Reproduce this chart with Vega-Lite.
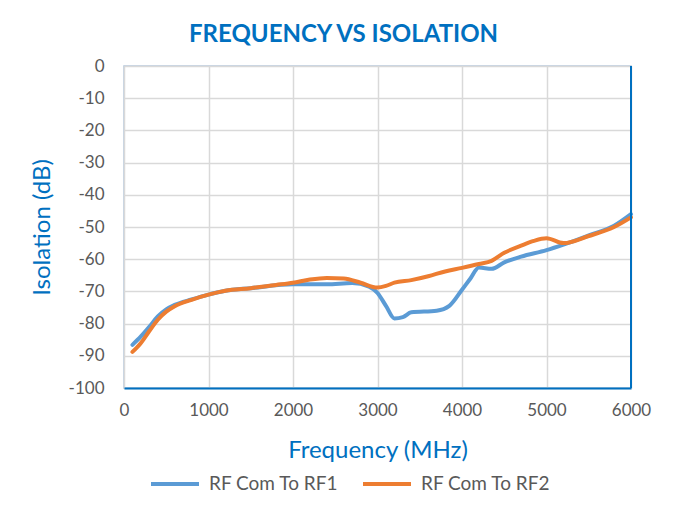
{
  "$schema": "https://vega.github.io/schema/vega-lite/v6.json",
  "width": 507,
  "height": 322,
  "autosize": {"type": "none"},
  "padding": {"left": 124, "top": 66, "right": 48, "bottom": 128},
  "background": "white",
  "title": {
    "text": "FREQUENCY VS ISOLATION",
    "font": "Lato",
    "fontSize": 24,
    "fontWeight": "bold",
    "color": "#0070C0",
    "anchor": "middle",
    "dx": -34,
    "offset": 10
  },
  "config": {
    "view": {"stroke": "#B4C7DC", "strokeWidth": 1.5},
    "font": "Lato"
  },
  "data": {
    "values": [
      {"f": 100, "db": -86.6, "s": "RF Com To RF1"},
      {"f": 200, "db": -84, "s": "RF Com To RF1"},
      {"f": 300, "db": -81, "s": "RF Com To RF1"},
      {"f": 400, "db": -77.8, "s": "RF Com To RF1"},
      {"f": 500, "db": -75.6, "s": "RF Com To RF1"},
      {"f": 600, "db": -74.2, "s": "RF Com To RF1"},
      {"f": 800, "db": -72.5, "s": "RF Com To RF1"},
      {"f": 1000, "db": -71, "s": "RF Com To RF1"},
      {"f": 1200, "db": -69.8, "s": "RF Com To RF1"},
      {"f": 1500, "db": -69, "s": "RF Com To RF1"},
      {"f": 2000, "db": -67.8, "s": "RF Com To RF1"},
      {"f": 2400, "db": -67.8, "s": "RF Com To RF1"},
      {"f": 2700, "db": -67.4, "s": "RF Com To RF1"},
      {"f": 2900, "db": -68.5, "s": "RF Com To RF1"},
      {"f": 3000, "db": -70.5, "s": "RF Com To RF1"},
      {"f": 3100, "db": -74.5, "s": "RF Com To RF1"},
      {"f": 3200, "db": -78.4, "s": "RF Com To RF1"},
      {"f": 3300, "db": -78, "s": "RF Com To RF1"},
      {"f": 3400, "db": -76.5, "s": "RF Com To RF1"},
      {"f": 3700, "db": -76, "s": "RF Com To RF1"},
      {"f": 3850, "db": -74.5, "s": "RF Com To RF1"},
      {"f": 4000, "db": -69.5, "s": "RF Com To RF1"},
      {"f": 4100, "db": -66, "s": "RF Com To RF1"},
      {"f": 4200, "db": -62.6, "s": "RF Com To RF1"},
      {"f": 4350, "db": -63, "s": "RF Com To RF1"},
      {"f": 4500, "db": -61, "s": "RF Com To RF1"},
      {"f": 4700, "db": -59.2, "s": "RF Com To RF1"},
      {"f": 5000, "db": -57.2, "s": "RF Com To RF1"},
      {"f": 5200, "db": -55.5, "s": "RF Com To RF1"},
      {"f": 5500, "db": -52.6, "s": "RF Com To RF1"},
      {"f": 5800, "db": -49.6, "s": "RF Com To RF1"},
      {"f": 6000, "db": -46, "s": "RF Com To RF1"},
      {"f": 100, "db": -88.8, "s": "RF Com To RF2"},
      {"f": 200, "db": -86, "s": "RF Com To RF2"},
      {"f": 300, "db": -82.3, "s": "RF Com To RF2"},
      {"f": 400, "db": -78.8, "s": "RF Com To RF2"},
      {"f": 500, "db": -76.3, "s": "RF Com To RF2"},
      {"f": 600, "db": -74.6, "s": "RF Com To RF2"},
      {"f": 800, "db": -72.6, "s": "RF Com To RF2"},
      {"f": 1000, "db": -71, "s": "RF Com To RF2"},
      {"f": 1200, "db": -69.8, "s": "RF Com To RF2"},
      {"f": 1500, "db": -69, "s": "RF Com To RF2"},
      {"f": 1800, "db": -68, "s": "RF Com To RF2"},
      {"f": 2000, "db": -67.3, "s": "RF Com To RF2"},
      {"f": 2200, "db": -66.3, "s": "RF Com To RF2"},
      {"f": 2400, "db": -65.8, "s": "RF Com To RF2"},
      {"f": 2600, "db": -66, "s": "RF Com To RF2"},
      {"f": 2800, "db": -67.3, "s": "RF Com To RF2"},
      {"f": 3000, "db": -68.8, "s": "RF Com To RF2"},
      {"f": 3100, "db": -68.3, "s": "RF Com To RF2"},
      {"f": 3200, "db": -67.3, "s": "RF Com To RF2"},
      {"f": 3400, "db": -66.5, "s": "RF Com To RF2"},
      {"f": 3600, "db": -65.3, "s": "RF Com To RF2"},
      {"f": 3800, "db": -63.8, "s": "RF Com To RF2"},
      {"f": 4000, "db": -62.7, "s": "RF Com To RF2"},
      {"f": 4200, "db": -61.5, "s": "RF Com To RF2"},
      {"f": 4350, "db": -60.5, "s": "RF Com To RF2"},
      {"f": 4500, "db": -58, "s": "RF Com To RF2"},
      {"f": 4700, "db": -55.8, "s": "RF Com To RF2"},
      {"f": 4850, "db": -54.3, "s": "RF Com To RF2"},
      {"f": 5000, "db": -53.5, "s": "RF Com To RF2"},
      {"f": 5200, "db": -55, "s": "RF Com To RF2"},
      {"f": 5500, "db": -52.8, "s": "RF Com To RF2"},
      {"f": 5800, "db": -50, "s": "RF Com To RF2"},
      {"f": 6000, "db": -47, "s": "RF Com To RF2"}
    ]
  },
  "layer": [
    {
      "mark": {"type": "line", "interpolate": "monotone", "strokeWidth": 4, "strokeCap": "round", "strokeJoin": "round"},
      "encoding": {
        "x": {
          "field": "f", "type": "quantitative",
          "scale": {"domain": [0, 6000], "nice": false},
          "axis": {
            "values": [0, 1000, 2000, 3000, 4000, 5000, 6000],
            "labelExpr": "'' + datum.value",
            "labelFlush": false,
            "title": "Frequency (MHz)",
            "titleFont": "Lato", "titleFontSize": 24, "titleFontWeight": "normal", "titleColor": "#0070C0",
            "titlePadding": 20,
            "labelFont": "Lato", "labelFontSize": 17, "labelColor": "#595959",
            "labelPadding": 14, "ticks": false,
            "domainColor": "#0070C0", "domainWidth": 2,
            "grid": true, "gridColor": "#D9D9D9", "gridWidth": 1.5
          }
        },
        "y": {
          "field": "db", "type": "quantitative",
          "scale": {"domain": [-100, 0], "nice": false},
          "axis": {
            "values": [-100, -90, -80, -70, -60, -50, -40, -30, -20, -10, 0],
            "labelExpr": "'' + datum.value",
            "title": "Isolation (dB)",
            "titleFont": "Lato", "titleFontSize": 24, "titleFontWeight": "normal", "titleColor": "#0070C0",
            "titlePadding": 14,
            "labelFont": "Lato", "labelFontSize": 17, "labelColor": "#595959",
            "labelPadding": 20, "ticks": false, "domain": false,
            "grid": true, "gridColor": "#D9D9D9", "gridWidth": 1.5
          }
        },
        "color": {
          "field": "s", "type": "nominal",
          "scale": {"domain": ["RF Com To RF1", "RF Com To RF2"], "range": ["#5B9BD5", "#ED7D31"]},
          "legend": {
            "title": null,
            "orient": "none",
            "direction": "horizontal",
            "legendX": 25,
            "legendY": 392,
            "symbolType": "stroke",
            "symbolSize": 2304,
            "symbolStrokeWidth": 4,
            "labelFont": "Lato", "labelFontSize": 19, "labelColor": "#595959",
            "labelOffset": 8,
            "columnPadding": 16
          }
        }
      }
    },
    {
      "mark": {"type": "rule", "color": "#0070C0", "strokeWidth": 2},
      "encoding": {"x": {"datum": 6000}}
    }
  ]
}
